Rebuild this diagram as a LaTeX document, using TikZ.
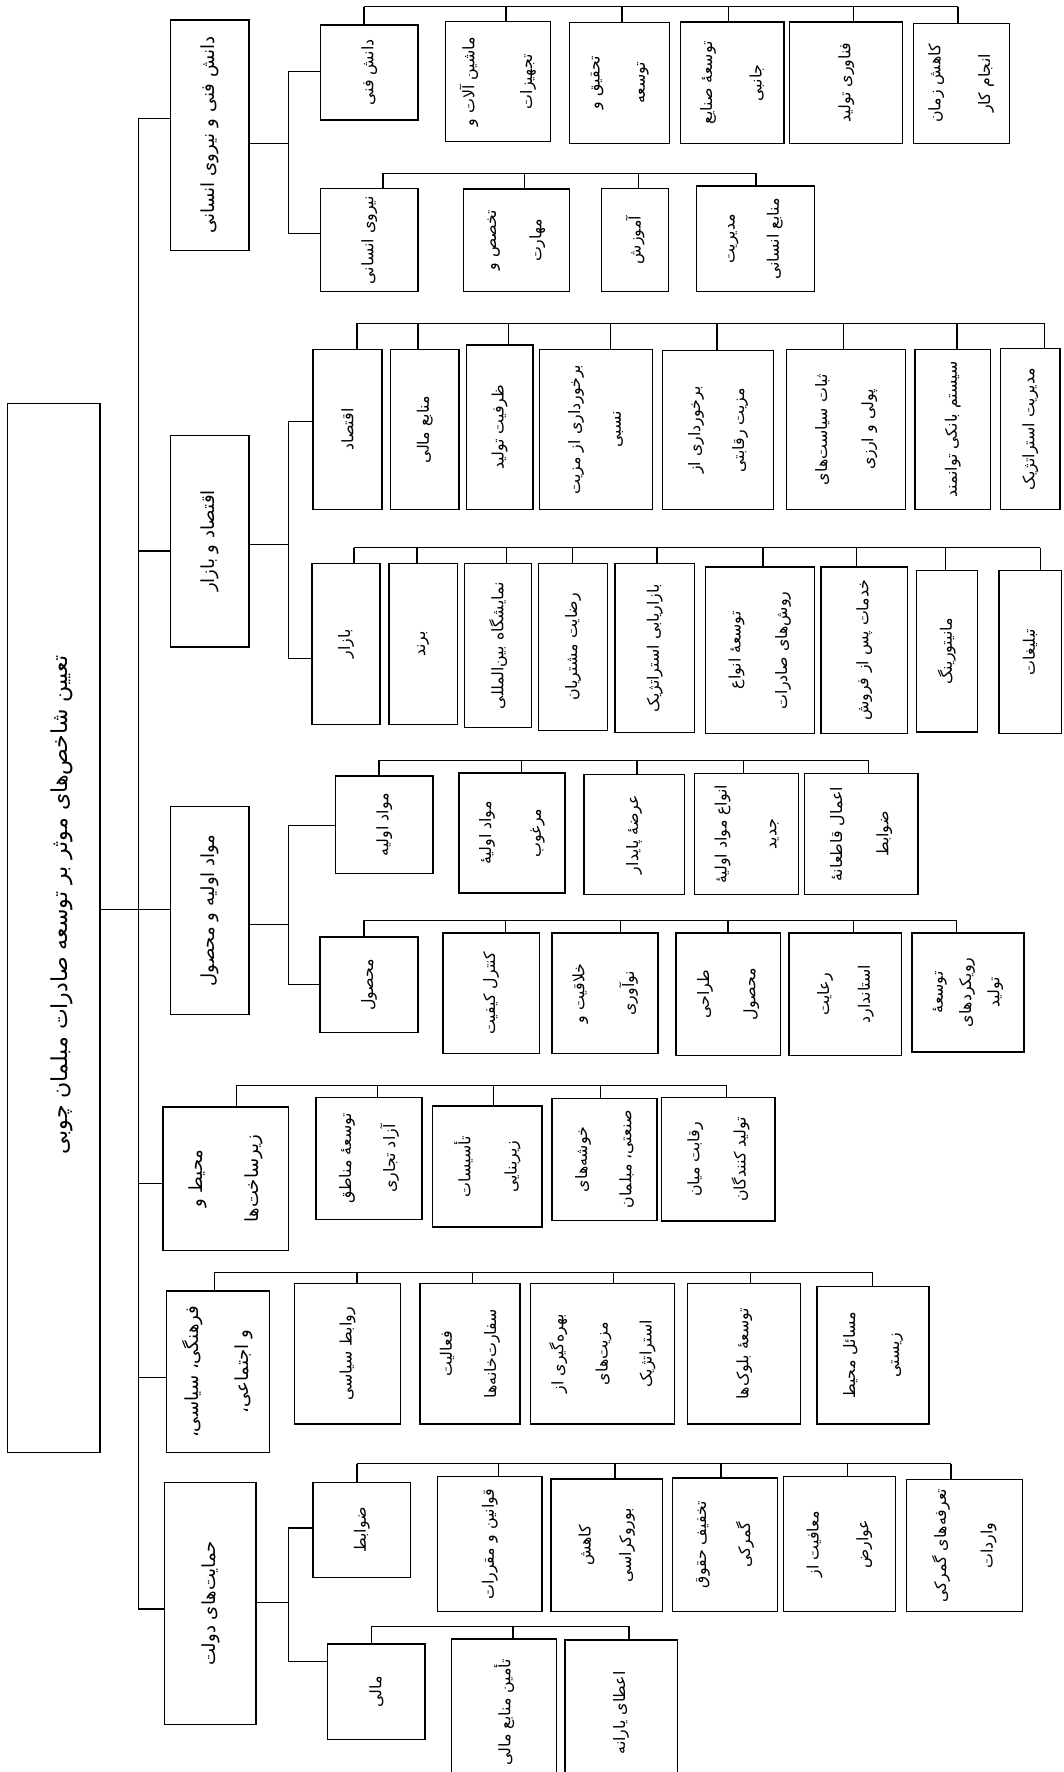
\documentclass[tikz,border=0pt]{standalone}
\usepackage{fontspec}
\newfontfamily\arabicfont[Script=Arabic]{DejaVu Sans}
\TeXXeTstate=1
\newcommand\ar[1]{\beginR #1\endR}
\tikzset{
  box/.style={draw, line width=1.2pt, rotate=90, inner sep=1pt, align=center,
    font=\arabicfont\fontsize{14}{40}\selectfont},
  lsk/.style={font=\arabicfont\fontsize{14}{#1}\selectfont},
  grp/.style={font=\arabicfont\fontsize{16}{#1}\selectfont},
  grp/.default=44,
  conn/.style={line width=1.1pt},
}
% \bx[opts]{name}{x1}{y1}{x2}{y2}{text}
\newcommand\bx[7][]{\node[box,#1,minimum width={(#6)-(#4)},minimum height={(#5)-(#3)}] (#2) at ({((#3)+(#5))/2},{((#4)+(#6))/2}) {#7};}
% \bus{name}{y}{x1}{x2}
\newcommand\bus[4]{\coordinate (#1a) at (#3,#2); \coordinate (#1b) at (#4,#2); \draw[conn] (#1a) -- (#1b);}
% \drop{x}{y}{node}
\newcommand\drop[3]{\coordinate (dtmp) at (#1,#2); \draw[conn] (dtmp) -- (dtmp |- #3.east);}
\begin{document}
\begin{tikzpicture}[x=1pt,y=-1pt]
\useasboundingbox (0,0) rectangle (941,1568);
\fill[white] (0,0) rectangle (941,1568);
\clip (0,0) rectangle (941,1568);

% root
\node[box, minimum width=928, minimum height=82] (root) at (47.5,821) {};
\node[rotate=90, font=\arabicfont\fontsize{19.5}{22}\selectfont] (roottxt) at (54.6,801) {\ar{تعیین شاخص‌های موثر بر توسعه صادرات مبلمان چوبی}};

% trunk
\coordinate (t1) at (122.3,104.8);
\coordinate (t2) at (122.3,487.5);
\coordinate (t3) at (122.3,804.6);
\coordinate (t4) at (122.3,1047.5);
\coordinate (t5) at (122.3,1218.6);
\coordinate (t6) at (122.3,1423.7);
\draw[conn] (t1) -- (t6);
\draw[conn] (root.south |- t3) -- (t3);

% ===== group 1
\bx[grp]{g1}{150.8}{17.7}{220.4}{221.9}{\ar{دانش فنی و نیروی انسانی}}
\bx{s11}{283.8}{22.1}{369.9}{106.2}{\ar{دانش فنی}}
\bx[lsk=51]{c111}{394.1}{19.2}{486.9}{125.4}{\ar{ماشین آلات و}\\\ar{تجهیزات}}
\bx{c112}{504.0}{19.8}{592.6}{126.9}{\ar{تحقیق و}\\\ar{توسعه}}
\bx[lsk=44]{c113}{601.9}{19.5}{693.6}{126.9}{\ar{توسعهٔ صنایع}\\\ar{جانبی}}
\bx{c114}{698.8}{19.5}{798.8}{126.9}{\ar{فناوری تولید}}
\bx[lsk=44]{c115}{808.1}{20.7}{893.1}{126.9}{\ar{کاهش زمان}\\\ar{انجام کار}}
\bx{s12}{283.8}{166.7}{369.9}{258.2}{\ar{نیروی انسانی}}
\bx{c121}{410.1}{167.3}{503.9}{258.2}{\ar{تخصص و}\\\ar{مهارت}}
\bx{c122}{532.3}{166.7}{591.6}{258.2}{\ar{آموزش}}
\bx[lsk=39]{c123}{616.3}{164.7}{720.5}{258.2}{\ar{مدیریت}\\\ar{منابع انسانی}}
\draw[conn] (t1) -- (g1.north |- t1);
\coordinate (j1) at (255,126.9);
\coordinate (j1a) at (255,63.4);
\coordinate (j1b) at (255,206.6);
\draw[conn] (g1.south |- j1) -- (j1);
\draw[conn] (j1a) -- (j1b);
\draw[conn] (j1a) -- (s11.north |- j1a);
\draw[conn] (j1b) -- (s12.north |- j1b);
\bus{b11}{5.9}{322}{847.8}
\drop{322}{5.9}{s11}\drop{447.8}{5.9}{c111}\drop{550.3}{5.9}{c112}
\drop{644.7}{5.9}{c113}\drop{755.5}{5.9}{c114}\drop{847.8}{5.9}{c115}
\bus{b12}{153.5}{339}{668.9}
\drop{339}{153.5}{s12}\drop{464.3}{153.5}{c121}\drop{564.8}{153.5}{c122}\drop{668.9}{153.5}{c123}

% ===== group 2
\bx[grp]{g2}{150.8}{385.1}{220.4}{572.5}{\ar{اقتصاد و بازار}}
\bx{s21}{277.1}{309.2}{338.0}{450.9}{\ar{اقتصاد}}
\bx{c211}{345.7}{309.2}{406.0}{450.9}{\ar{منابع مالی}}
\bx{c212}{412.7}{305.4}{471.5}{450.9}{\ar{ظرفیت تولید}}
\bx[lsk=36]{c213}{477.1}{309.2}{577.1}{450.9}{\ar{برخورداری از مزیت}\\\ar{نسبی}}
\bx[lsk=39]{c214}{586.4}{310.4}{684.4}{450.9}{\ar{برخورداری از}\\\ar{مزیت رقابتی}}
\bx[lsk=41]{c215}{696.2}{309.2}{801.4}{450.9}{\ar{ثبات سیاست‌های}\\\ar{پولی و ارزی}}
\bx{c216}{809.6}{309.2}{876.6}{450.9}{\ar{سیستم بانکی توانمند}}
\bx{c217}{885.4}{308.3}{938.0}{450.9}{\ar{مدیریت استراتژیک}}
\bx{s22}{276.1}{498.7}{336.4}{641.0}{\ar{بازار}}
\bx{c221}{344.1}{498.7}{405.0}{641.0}{\ar{برند}}
\bx{c222}{411.2}{498.7}{470.4}{643.9}{\ar{نمایشگاه بین‌المللی}}
\bx{c223}{476.6}{498.7}{537.5}{646.3}{\ar{رضایت مشتریان}}
\bx{c224}{544.1}{498.7}{614.8}{648.3}{\ar{بازاریابی استراتژیک}}
\bx[lsk=41]{c225}{624.1}{501.7}{720.5}{649.2}{\ar{توسعهٔ انواع}\\\ar{روش‌های صادرات}}
\bx{c226}{726.6}{501.7}{802.9}{649.2}{\ar{خدمات پس از فروش}}
\bx{c227}{810.7}{504.6}{864.8}{647.7}{\ar{مانیتورینگ}}
\bx{c228}{883.9}{504.6}{939.0}{649.2}{\ar{تبلیغات}}
\draw[conn] (t2) -- (g2.north |- t2);
\coordinate (j2) at (255,481.6);
\coordinate (j2a) at (255,373.3);
\coordinate (j2b) at (255,582.8);
\draw[conn] (g2.south |- j2) -- (j2);
\draw[conn] (j2a) -- (j2b);
\draw[conn] (j2a) -- (s21.north |- j2a);
\draw[conn] (j2b) -- (s22.north |- j2b);
\bus{b21}{286.2}{315.8}{924.1}
\drop{315.8}{286.2}{s21}\drop{369.9}{286.2}{c211}\drop{449.8}{286.2}{c212}
\drop{540.0}{286.2}{c213}\drop{634.4}{286.2}{c214}\drop{746.2}{286.2}{c215}
\drop{846.8}{286.2}{c216}\drop{924.1}{286.2}{c217}
\bus{b22}{484.5}{313.2}{920.5}
\drop{313.2}{484.5}{s22}\drop{368.9}{484.5}{c221}\drop{448.3}{484.5}{c222}
\drop{506.5}{484.5}{c223}\drop{581.3}{484.5}{c224}\drop{675.1}{484.5}{c225}
\drop{757.6}{484.5}{c226}\drop{836.4}{484.5}{c227}\drop{920.5}{484.5}{c228}

% ===== group 3
\bx[grp]{g3}{150.8}{713.5}{220.4}{897.6}{\ar{مواد اولیه و محصول}}
\bx{s31}{296.7}{686.6}{383.3}{773.1}{\ar{مواد اولیه}}
\bx[lsk=44]{c311}{406.0}{684.0}{499.8}{790.2}{\ar{مواد اولیهٔ}\\\ar{مرغوب}}
\bx{c312}{516.8}{685.1}{605.5}{791.7}{\ar{عرضهٔ پایدار}}
\bx[lsk=44]{c313}{614.8}{684.6}{706.5}{791.7}{\ar{انواع مواد اولیهٔ}\\\ar{جدید}}
\bx[lsk=41]{c314}{711.7}{684.6}{812.2}{791.7}{\ar{اعمال قاطعانهٔ}\\\ar{ضوابط}}
\bx{s32}{283.3}{829.1}{369.9}{913.8}{\ar{محصول}}
\bx{c321}{392.1}{825.5}{477.1}{932.4}{\ar{کنترل کیفیت}}
\bx[lsk=44]{c322}{488.5}{825.5}{582.3}{932.4}{\ar{خلاقیت و}\\\ar{نوآوری}}
\bx[lsk=41]{c323}{598.3}{825.5}{690.5}{933.9}{\ar{طراحی}\\\ar{محصول}}
\bx[lsk=36]{c324}{698.3}{825.5}{797.8}{933.9}{\ar{رعایت}\\\ar{استاندارد}}
\bx[lsk=25]{c325}{807.1}{825.5}{906.0}{930.9}{\ar{توسعهٔ}\\\ar{رویکردهای}\\\ar{تولید}}
\draw[conn] (t3) -- (g3.north |- t3);
\coordinate (j3) at (255,818.2);
\coordinate (j3a) at (255,730.3);
\coordinate (j3b) at (255,871.3);
\draw[conn] (g3.south |- j3) -- (j3);
\draw[conn] (j3a) -- (j3b);
\draw[conn] (j3a) -- (s31.north |- j3a);
\draw[conn] (j3b) -- (s32.north |- j3b);
\bus{b31}{672.8}{335.4}{768.4}
\drop{335.4}{672.8}{s31}\drop{461.2}{672.8}{c311}\drop{563.7}{672.8}{c312}
\drop{657.6}{672.8}{c313}\drop{768.4}{672.8}{c314}
\bus{b32}{814.3}{322}{846.7}
\drop{322}{814.3}{s32}\drop{447.2}{814.3}{c321}\drop{549.3}{814.3}{c322}
\drop{644.2}{814.3}{c323}\drop{755.0}{814.3}{c324}\drop{846.7}{814.3}{c325}

% ===== group 4
\bx[grp=49]{g4}{144.1}{979.6}{255.5}{1106.5}{\ar{محیط و}\\\ar{زیرساخت‌ها}}
\bx[lsk=39]{c41}{279.7}{971.3}{373.5}{1079.0}{\ar{توسعهٔ مناطق}\\\ar{آزاد تجاری}}
\bx[lsk=41]{c42}{382.8}{978.7}{479.7}{1085.8}{\ar{تأسیسات}\\\ar{زیربنایی}}
\bx[lsk=39]{c43}{488.5}{972.2}{581.3}{1079.9}{\ar{خوشه‌های}\\\ar{صنعتی، مبلمان}}
\bx[lsk=41]{c44}{585.4}{971.3}{685.9}{1080.5}{\ar{رقابت میان}\\\ar{تولید کنندگان}}
\draw[conn] (t4) -- (g4.north |- t4);
\bus{b41}{960.4}{209.1}{643.1}
\drop{209.1}{960.4}{g4}\drop{333.8}{960.4}{c41}\drop{436.9}{960.4}{c42}
\drop{531.3}{960.4}{c43}\drop{643.1}{960.4}{c44}

% ===== group 5
\bx[grp=44]{g5}{147.2}{1142.5}{238.5}{1285.0}{\ar{فرهنگی، سیاسی،}\\\ar{و اجتماعی،}}
\bx{c51}{260.6}{1136.0}{354.4}{1259.9}{\ar{روابط سیاسی}}
\bx[lsk=39]{c52}{371.5}{1136.0}{460.1}{1259.9}{\ar{فعالیت}\\\ar{سفارت‌خانه‌ها}}
\bx[lsk=39]{c53}{469.4}{1136.0}{596.7}{1259.9}{\ar{بهره‌گیری از}\\\ar{مزیت‌های}\\\ar{استراتژیک}}
\bx{c54}{608.6}{1136.0}{708.6}{1259.9}{\ar{توسعهٔ بلوک‌ها}}
\bx[lsk=39]{c55}{723.0}{1138.4}{822.0}{1259.9}{\ar{مسائل محیط}\\\ar{زیستی}}
\draw[conn] (t5) -- (g5.north |- t5);
\bus{b51}{1125.7}{189.5}{772.0}
\drop{189.5}{1125.7}{g5}\drop{315.8}{1125.7}{c51}\drop{417.9}{1125.7}{c52}
\drop{542.6}{1125.7}{c53}\drop{663.8}{1125.7}{c54}\drop{772.0}{1125.7}{c55}

% ===== group 6
\bx[grp]{g6}{145.7}{1311.6}{226.6}{1526.1}{\ar{حمایت‌های دولت}}
\bx{s61}{277.1}{1311.6}{363.2}{1395.7}{\ar{ضوابط}}
\bx{c611}{386.9}{1306.6}{479.7}{1426.1}{\ar{قوانین و مقررات}}
\bx[lsk=36]{c612}{487.5}{1308.6}{586.4}{1426.1}{\ar{کاهش}\\\ar{بوروکراسی}}
\bx[lsk=39]{c613}{595.2}{1307.7}{688.0}{1426.1}{\ar{تخفیف حقوق}\\\ar{گمرکی}}
\bx[lsk=44]{c614}{693.1}{1306.6}{792.6}{1426.1}{\ar{معافیت از}\\\ar{عوارض}}
\bx[lsk=41]{c615}{801.9}{1309.2}{904.5}{1426.1}{\ar{تعرفه‌های گمرکی}\\\ar{واردات}}
\bx{s62}{290.0}{1454.7}{376.1}{1539.4}{\ar{مالی}}
\bx{c621}{399.8}{1450.3}{492.6}{1580.0}{\ar{تأمین منابع مالی}}
\bx{c622}{499.8}{1451.2}{599.3}{1580.0}{\ar{اعطای یارانه}}
\draw[conn] (t6) -- (g6.north |- t6);
\coordinate (j6) at (255,1417.8);
\coordinate (j6a) at (255,1352.0);
\coordinate (j6b) at (255,1470.3);
\draw[conn] (g6.south |- j6) -- (j6);
\draw[conn] (j6a) -- (j6b);
\draw[conn] (j6a) -- (s61.north |- j6a);
\draw[conn] (j6b) -- (s62.north |- j6b);
\bus{b61}{1295.3}{315.8}{841.6}
\drop{315.8}{1295.3}{s61}\drop{441.1}{1295.3}{c611}\drop{544.2}{1295.3}{c612}
\drop{638.0}{1295.3}{c613}\drop{749.8}{1295.3}{c614}\drop{841.6}{1295.3}{c615}
\bus{b62}{1439.1}{328.7}{556.5}
\drop{328.7}{1439.1}{s62}\drop{453.9}{1439.1}{c621}\drop{556.5}{1439.1}{c622}
\end{tikzpicture}
\end{document}
